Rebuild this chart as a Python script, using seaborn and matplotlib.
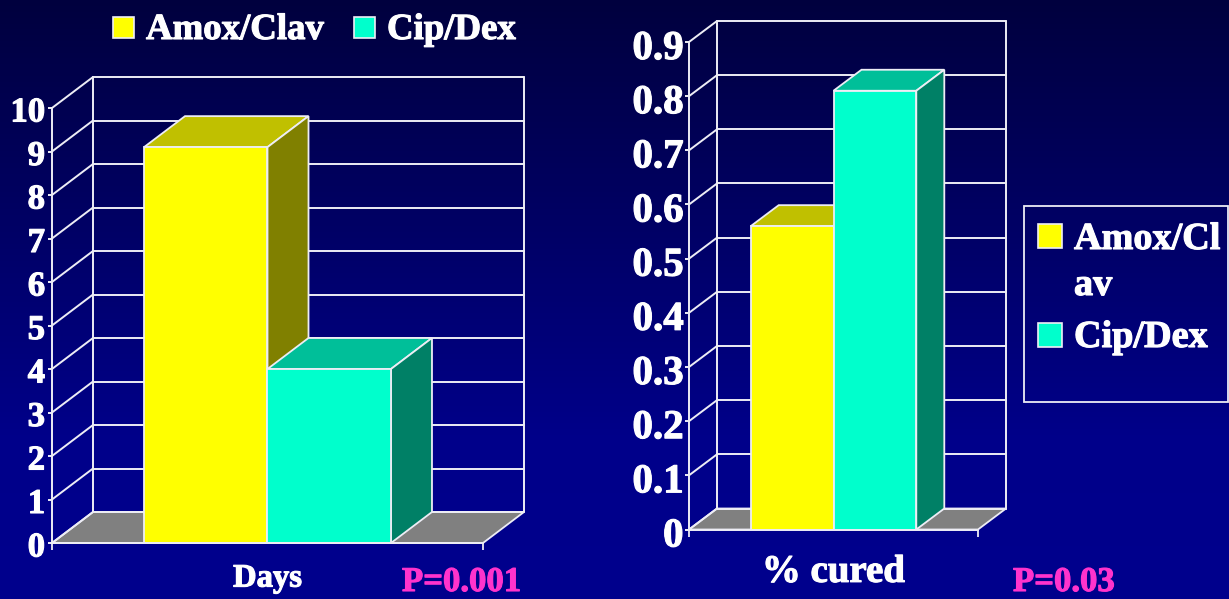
import numpy as np
import pandas as pd
import matplotlib
matplotlib.use("Agg")
import matplotlib.pyplot as plt
import matplotlib.patheffects as pe
from matplotlib.patches import Rectangle
from matplotlib.transforms import ScaledTranslation
import seaborn as sns

# Treatment arms and outcome values
groups = ["Amox/Clav", "Cip/Dex"]
days_values = [9.1, 4.0]
cured_values = [0.56, 0.81]
days_ticks = [0, 1, 2, 3, 4, 5, 6, 7, 8, 9, 10]
cured_ticks = [0, 0.1, 0.2, 0.3, 0.4, 0.5, 0.6, 0.7, 0.8, 0.9]
cured_tick_labels = ["0", "0.1", "0.2", "0.3", "0.4", "0.5", "0.6", "0.7", "0.8", "0.9"]
days_label = "Days"
cured_label = "% cured"
days_p = "P=0.001"
cured_p = "P=0.03"
side_legend_lines = ["Amox/Cl", "av", "Cip/Dex"]

# Face colours of the extruded bars: front, top, side
FRONT = ["#FFFF00", "#00FFCC"]
TOP = ["#C0C000", "#00BF99"]
SIDE = ["#808000", "#008066"]
FLOOR = "#808080"
LINE = "#EDEDF5"
PINK = "#FF33CC"
W, H = 1229, 599

sns.set_theme(style="white")
plt.rcParams["font.family"] = ["Liberation Serif", "DejaVu Serif"]
plt.rcParams["font.weight"] = "bold"

fig = plt.figure(figsize=(W / 100, H / 100), dpi=100)


def heavy(text, color="white"):
    # Thicken the glyphs a little with an outline in their own colour
    text.set_path_effects([pe.withStroke(linewidth=0.8, foreground=color)])


# Full-figure pixel canvas holding the blue gradient and the legends
bg = fig.add_axes([0, 0, 1, 1], zorder=0)
ramp = np.interp(np.arange(H), [0, 440, 599], [62, 138, 141])
image = np.zeros((H, 1, 3))
image[:, 0, 2] = ramp / 255
bg.imshow(image, aspect="auto", extent=(0, W, H, 0), interpolation="bilinear")
bg.set_xlim(0, W)
bg.set_ylim(H, 0)
bg.axis("off")


def add_axes_px(left, right, top, bottom):
    return fig.add_axes([left / W, 1 - bottom / H, (right - left) / W, (bottom - top) / H], zorder=1)


def bar_chart_3d(ax, values, ticks, tick_labels, label, depth, tick_size, label_size, label_y, pad, drop):
    frame = pd.DataFrame({"measure": [label] * len(groups), "group": groups, "value": values})
    sns.barplot(data=frame, x="measure", y="value", hue="group", hue_order=groups,
                palette=FRONT, width=0.573, gap=0, saturation=1, legend=False,
                edgecolor=LINE, linewidth=1.3, ax=ax)
    bars = [container[0] for container in ax.containers]
    ax.patch.set_alpha(0)
    ax.set_xlim(-0.5, 0.5)
    ax.set_ylim(ticks[0], ticks[-1])

    box = ax.get_position()
    dx = depth[0] / (box.width * W)
    dy = depth[1] / (box.height * H) * (ticks[-1] - ticks[0])
    line = dict(color=LINE, lw=1.4, clip_on=False, solid_capstyle="round")

    # Floor, back wall and the diagonals joining the value axis to the wall
    ax.fill([-0.5, 0.5, 0.5 + dx, -0.5 + dx], [0, 0, dy, dy], facecolor=FLOOR,
            edgecolor=LINE, lw=1.3, clip_on=False, zorder=1)
    for t in ticks:
        ax.plot([-0.5 + dx, 0.5 + dx], [t + dy, t + dy], zorder=1.2, **line)
        ax.plot([-0.5, -0.5 + dx], [t, t + dy], zorder=1.2, **line)
    for x in (-0.5 + dx, 0.5 + dx):
        ax.plot([x, x], [dy, ticks[-1] + dy], zorder=1.2, **line)

    # Top and side faces, stacked so that later bars cover earlier ones
    for i, bar in enumerate(bars):
        x0, x1, h = bar.get_x(), bar.get_x() + bar.get_width(), bar.get_height()
        z = 3 + i
        bar.set_zorder(z + 0.5)
        ax.fill([x0, x1, x1 + dx, x0 + dx], [h, h, h + dy, h + dy], facecolor=TOP[i],
                edgecolor=LINE, lw=1.3, clip_on=False, zorder=z)
        ax.fill([x1, x1 + dx, x1 + dx, x1], [0, dy, h + dy, h], facecolor=SIDE[i],
                edgecolor=LINE, lw=1.3, clip_on=False, zorder=z)

    # Value axis, category axis and text
    sns.despine(ax=ax, top=True, right=True)
    for name in ("left", "bottom"):
        ax.spines[name].set_color(LINE)
        ax.spines[name].set_linewidth(1.4)
        ax.spines[name].set_zorder(8)
    ax.set_yticks(ticks, labels=tick_labels)
    ax.set_xticks([-0.5, 0.5], labels=["", ""])
    ax.tick_params(axis="y", colors="white", left=True, length=3, width=1.3, pad=pad, labelsize=tick_size)
    ax.tick_params(axis="x", colors=LINE, bottom=True, length=5, width=1.3)
    shift = ScaledTranslation(0, -drop / 100, fig.dpi_scale_trans)
    for tick_text in ax.get_yticklabels():
        tick_text.set_transform(tick_text.get_transform() + shift)
        heavy(tick_text)
    ax.set_ylabel("")
    ax.set_xlabel(label, color="white", fontsize=label_size, fontweight="bold", va="top")
    heavy(ax.xaxis.label)
    ax.xaxis.set_label_coords(0.5, label_y)


left_ax = add_axes_px(52, 483, 108, 543)
bar_chart_3d(left_ax, days_values, days_ticks, [str(t) for t in days_ticks], days_label,
             (41, 31), 25, 23.5, -0.045, 2, 1)
right_ax = add_axes_px(689, 978, 42, 529.5)
bar_chart_3d(right_ax, cured_values, cured_ticks, cured_tick_labels, cured_label,
             (28, 21), 29.5, 28, -0.05, 1, 3)

# Significance notes
for x, note in ((402, days_p), (1013, cured_p)):
    heavy(bg.text(x, 591, note, color=PINK, fontsize=25, fontweight="bold",
                  va="baseline", ha="left"), PINK)


def legend_entry(x, y, color, text, size):
    bg.add_patch(Rectangle((x, y - 10.5), 21, 21, facecolor=color, edgecolor=LINE, lw=1.2))
    heavy(bg.text(x + 33, y + 12, text, color="white", fontsize=size, fontweight="bold",
                  va="baseline", ha="left"))


# Legend across the top of the left chart
legend_entry(113, 27, FRONT[0], groups[0], 26.5)
legend_entry(354, 27, FRONT[1], groups[1], 26.5)

# Boxed legend to the right of the right chart
bg.add_patch(Rectangle((1024, 206), 204, 196, facecolor="none", edgecolor=LINE, lw=1.3))
bg.add_patch(Rectangle((1038, 224), 24, 24, facecolor=FRONT[0], edgecolor=LINE, lw=1.2))
bg.add_patch(Rectangle((1038, 323), 24, 24, facecolor=FRONT[1], edgecolor=LINE, lw=1.2))
for baseline, text in zip([249, 295, 347], side_legend_lines):
    heavy(bg.text(1074, baseline, text, color="white", fontsize=27.5, fontweight="bold"))

fig.savefig("out.png", dpi=100, facecolor=fig.get_facecolor())
